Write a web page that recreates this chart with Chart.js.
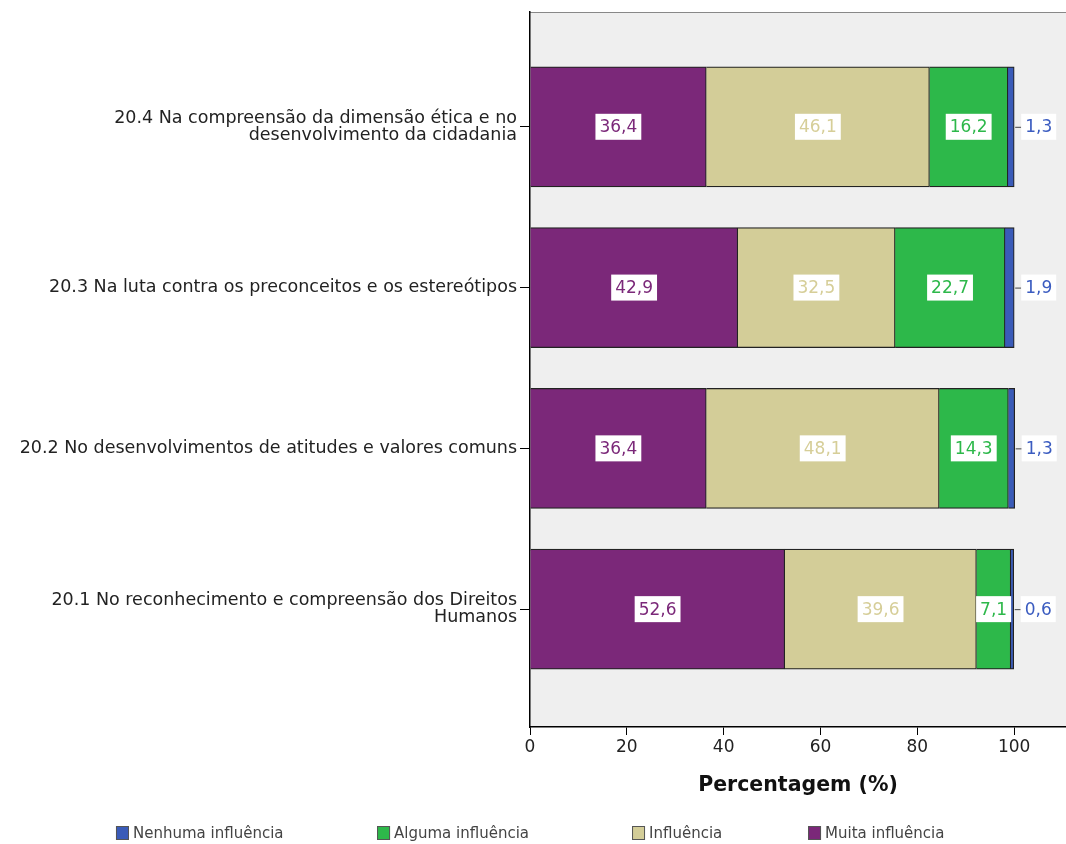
<!DOCTYPE html>
<html>
<head>
<meta charset="utf-8">
<script src="https://cdn.jsdelivr.net/npm/chart.js@4"></script>
<style>
  html, body { margin: 0; padding: 0; background: #fff; }
  #wrap { width: 1066px; height: 844px; position: relative; }
</style>
</head>
<body>
<div id="wrap"><canvas id="myChart"></canvas></div>
<script>
// categories, top to bottom
const categories = [
  ['20.4 Na compreensão da dimensão ética e no', 'desenvolvimento da cidadania'],
  '20.3 Na luta contra os preconceitos e os estereótipos',
  '20.2 No desenvolvimentos de atitudes e valores comuns',
  ['20.1 No reconhecimento e compreensão dos Direitos', 'Humanos']
];
const muitaInfluencia   = [36.4, 42.9, 36.4, 52.6];
const influencia        = [46.1, 32.5, 48.1, 39.6];
const algumaInfluencia  = [16.2, 22.7, 14.3, 7.1];
const nenhumaInfluencia = [1.3, 1.9, 1.3, 0.6];
const xTicks = [0, 20, 40, 60, 80, 100];

const colors = {
  muita: '#7B2879',
  influencia: '#D3CD98',
  alguma: '#2DB84A',
  nenhuma: '#3A5BB8'
};
const textColors = {
  muita: '#7B2879',
  influencia: '#D6CE98',
  alguma: '#2DB84A',
  nenhuma: '#3B5CC0'
};

// y position of each category (top category gets the highest index)
const toPoints = arr => arr.map((v, i) => ({ x: v, y: categories.length - 1 - i }));

const FONT = '"DejaVu Sans", sans-serif';

// gray plot background + top border
const bgPlugin = {
  id: 'bg',
  beforeDraw(chart) {
    const { ctx, chartArea: a } = chart;
    ctx.save();
    ctx.fillStyle = '#EFEFEF';
    ctx.fillRect(a.left, a.top, a.right - a.left, a.bottom - a.top);
    ctx.strokeStyle = '#888';
    ctx.lineWidth = 1;
    ctx.beginPath();
    ctx.moveTo(a.left, a.top + 0.5);
    ctx.lineTo(a.right, a.top + 0.5);
    ctx.stroke();
    ctx.restore();
  }
};

// value labels in white boxes
const labelPlugin = {
  id: 'valueLabels',
  afterDatasetsDraw(chart) {
    const ctx = chart.ctx;
    ctx.save();
    ctx.font = '17px ' + FONT;
    ctx.textBaseline = 'middle';
    ctx.textAlign = 'center';
    chart.data.datasets.forEach((ds, di) => {
      const meta = chart.getDatasetMeta(di);
      meta.data.forEach((bar, i) => {
        const txt = ds.data[i].x.toFixed(1).replace('.', ',');
        const w = ctx.measureText(txt).width + 8;
        const h = 26;
        let cx;
        if (ds.outside) {
          // leader line to label outside the bar
          ctx.strokeStyle = '#444';
          ctx.lineWidth = 1;
          ctx.beginPath();
          ctx.moveTo(bar.x + 1, bar.y + 0.5);
          ctx.lineTo(bar.x + 7, bar.y + 0.5);
          ctx.stroke();
          cx = bar.x + 7 + w / 2;
        } else {
          cx = (bar.x + bar.base) / 2;
        }
        ctx.fillStyle = '#fff';
        ctx.fillRect(cx - w / 2, bar.y - h / 2, w, h);
        ctx.fillStyle = ds.labelColor;
        ctx.fillText(txt, cx, bar.y + 1);
      });
    });
    ctx.restore();
  }
};

// legend drawn below axis title
const legendItems = [
  { text: 'Nenhuma influência', color: colors.nenhuma, frac: 0.1088 },
  { text: 'Alguma influência', color: colors.alguma, frac: 0.3537 },
  { text: 'Influência', color: colors.influencia, frac: 0.5929 },
  { text: 'Muita influência', color: colors.muita, frac: 0.758 }
];
const legendPlugin = {
  id: 'bottomLegend',
  afterDraw(chart) {
    const ctx = chart.ctx;
    const y = chart.height - 11;
    ctx.save();
    ctx.font = '15px ' + FONT;
    ctx.textBaseline = 'middle';
    ctx.textAlign = 'left';
    legendItems.forEach(it => {
      const x = chart.width * it.frac;
      ctx.fillStyle = it.color;
      ctx.fillRect(x, y - 7, 13, 14);
      ctx.strokeStyle = '#555';
      ctx.lineWidth = 1;
      ctx.strokeRect(x + 0.5, y - 6.5, 12, 13);
      ctx.fillStyle = '#444';
      ctx.fillText(it.text, x + 17, y + 1);
    });
    ctx.restore();
  }
};

const ds = (label, arr, key, outside) => ({
  label,
  data: toPoints(arr),
  backgroundColor: colors[key],
  borderColor: '#222',
  borderWidth: 1.2,
  barThickness: 120,
  labelColor: textColors[key],
  outside: !!outside
});

new Chart(document.getElementById('myChart'), {
  type: 'bar',
  data: {
    datasets: [
      ds('Muita influência', muitaInfluencia, 'muita'),
      ds('Influência', influencia, 'influencia'),
      ds('Alguma influência', algumaInfluencia, 'alguma'),
      ds('Nenhuma influência', nenhumaInfluencia, 'nenhuma', true)
    ]
  },
  options: {
    indexAxis: 'y',
    responsive: true,
    maintainAspectRatio: false,
    animation: false,
    layout: { padding: { top: 12, right: 0, left: 0, bottom: 0 } },
    plugins: {
      legend: { display: false },
      tooltip: { enabled: false }
    },
    scales: {
      x: {
        type: 'linear',
        stacked: true,
        min: 0,
        max: 110.7,
        afterBuildTicks: s => { s.ticks = xTicks.map(v => ({ value: v })); },
        border: { color: '#000', width: 1.5 },
        grid: { drawOnChartArea: false, tickLength: 8, color: '#000' },
        ticks: { color: '#222', font: { family: FONT, size: 17 }, padding: 2, maxRotation: 0 },
        title: {
          display: true,
          text: 'Percentagem (%)',
          color: '#111',
          font: { family: FONT, size: 20.5, weight: 'bold' },
          padding: { top: 12, bottom: 46 }
        },
        afterFit: s => { s.height = 117; }
      },
      y: {
        type: 'linear',
        stacked: true,
        offset: false,
        min: -0.733,
        max: 3.714,
        afterBuildTicks: s => { s.ticks = categories.map((c, i) => ({ value: i })); },
        border: { color: '#000', width: 1.5 },
        grid: { drawOnChartArea: false, offset: false, tickLength: 10, color: '#000' },
        ticks: {
          color: '#222',
          font: { family: FONT, size: 17.5, lineHeight: 0.97 },
          padding: 3,
          callback: v => categories[categories.length - 1 - v]
        },
        afterFit: s => { s.width = 530; s.paddingTop = 0; s.paddingBottom = 0; }
      }
    }
  },
  plugins: [bgPlugin, labelPlugin, legendPlugin]
});
</script>
</body>
</html>
